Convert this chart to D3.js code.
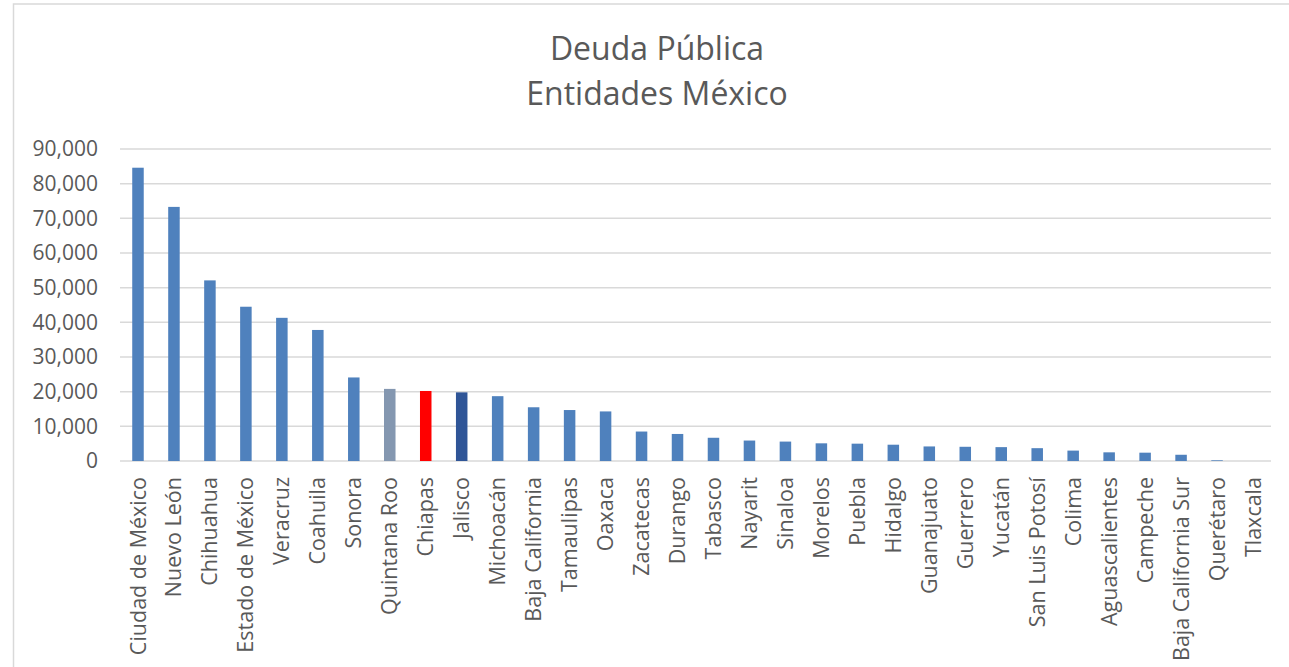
<!DOCTYPE html>
<html>
<head>
<meta charset="utf-8">
<script src="https://cdn.jsdelivr.net/npm/d3@7/dist/d3.min.js"></script>
<style>
  body { margin: 0; background: #fff; }
  svg { display: block; font-family: "Open Sans", sans-serif; }
</style>
</head>
<body>
<svg id="chart" width="1289" height="667"></svg>
<script>
// Deuda pública por entidad (millones de pesos)
const estados = [
  "Ciudad de México", "Nuevo León", "Chihuahua", "Estado de México", "Veracruz",
  "Coahuila", "Sonora", "Quintana Roo", "Chiapas", "Jalisco", "Michoacán",
  "Baja California", "Tamaulipas", "Oaxaca", "Zacatecas", "Durango", "Tabasco",
  "Nayarit", "Sinaloa", "Morelos", "Puebla", "Hidalgo", "Guanajuato", "Guerrero",
  "Yucatán", "San Luis Potosí", "Colima", "Aguascalientes", "Campeche",
  "Baja California Sur", "Querétaro", "Tlaxcala"
];
const deuda = [
  84600, 73300, 52100, 44500, 41300, 37800, 24100, 20800, 20200, 19800, 18700,
  15500, 14700, 14300, 8500, 7800, 6700, 5900, 5600, 5100, 5000, 4700, 4200, 4100,
  4000, 3700, 3000, 2500, 2400, 1800, 200, 0
];
const yTicks = [0, 10000, 20000, 30000, 40000, 50000, 60000, 70000, 80000, 90000];
const titulo = ["Deuda Pública", "Entidades México"];

// barras resaltadas
const colorBase = "#4f81bd";
const resaltados = { "Quintana Roo": "#8497b0", "Chiapas": "#ff0000", "Jalisco": "#2f5597" };

const data = estados.map((e, i) => ({ estado: e, valor: deuda[i] }));

const svg = d3.select("#chart");
const margin = { left: 120, right: 18, top: 149, bottom: 206 };
const width = 1289, height = 667;

// chart border (top + left only visible)
svg.append("path")
  .attr("d", `M13.5,${height} V4 H${width}`)
  .attr("fill", "none")
  .attr("stroke", "#d9d9d9")
  .attr("stroke-width", 1.5);

const x = d3.scaleBand()
  .domain(estados)
  .range([margin.left, width - margin.right])
  .paddingInner(0.68)
  .paddingOuter(0.34);

const y = d3.scaleLinear()
  .domain([0, 90000])
  .range([height - margin.bottom, margin.top]);

// gridlines
svg.append("g")
  .selectAll("line")
  .data(yTicks)
  .join("line")
  .attr("x1", margin.left)
  .attr("x2", width - margin.right)
  .attr("y1", d => y(d))
  .attr("y2", d => y(d))
  .attr("stroke", "#d9d9d9")
  .attr("stroke-width", 1.5);

// y axis labels
const yAxis = d3.axisLeft(y)
  .tickValues(yTicks)
  .tickFormat(d3.format(","))
  .tickSize(0)
  .tickPadding(22);

svg.append("g")
  .attr("transform", `translate(${margin.left},0)`)
  .call(yAxis)
  .call(g => g.select(".domain").remove())
  .selectAll("text")
  .attr("fill", "#595959")
  .attr("font-size", 21)
  .attr("font-family", "Open Sans, sans-serif");

// bars
svg.append("g")
  .selectAll("rect")
  .data(data)
  .join("rect")
  .attr("x", d => x(d.estado))
  .attr("width", x.bandwidth())
  .attr("y", d => y(d.valor))
  .attr("height", d => y(0) - y(d.valor))
  .attr("fill", d => resaltados[d.estado] || colorBase);

// x axis labels (rotated)
const xAxis = d3.axisBottom(x).tickSize(0).tickPadding(0);
svg.append("g")
  .attr("transform", `translate(0,${y(0)})`)
  .call(xAxis)
  .call(g => g.select(".domain").remove())
  .selectAll("text")
  .attr("fill", "#595959")
  .attr("font-size", 21.5)
  .attr("font-family", "Open Sans, sans-serif")
  .attr("text-anchor", "end")
  .attr("dy", "0.35em")
  .attr("transform", "translate(0,16) rotate(-90)");

// title
svg.append("text")
  .attr("x", 657)
  .attr("y", 60)
  .attr("text-anchor", "middle")
  .attr("fill", "#595959")
  .attr("font-size", 32)
  .selectAll("tspan")
  .data(titulo)
  .join("tspan")
  .attr("x", 657)
  .attr("dy", (d, i) => i === 0 ? 0 : 45)
  .text(d => d);
</script>
</body>
</html>
